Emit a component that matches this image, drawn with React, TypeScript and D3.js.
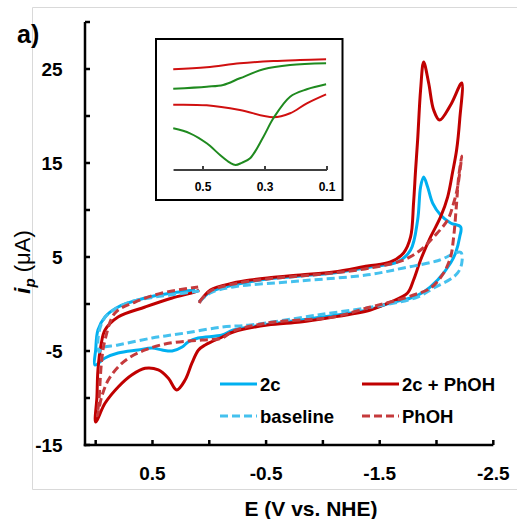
import React from "react";
import * as d3 from "d3";

// ---------- axis ticks ----------
const xTicks = [1.0, 0.5, 0.0, -0.5, -1.0, -1.5, -2.0, -2.5];
const xTickLabels = ["", "0.5", "", "-0.5", "", "-1.5", "", "-2.5"];
const yTicks = [-15, -10, -5, 0, 5, 10, 15, 20, 25, 30];
const yTickLabels = ["-15", "", "-5", "", "5", "", "15", "", "25", ""];
const insetTicks = [0.5, 0.3, 0.1];
const insetTickLabels = ["0.5", "0.3", "0.1"];

const seriesNames = ["2c", "2c + PhOH", "baseline", "PhOH"];

// ---------- 2c (solid blue) ----------
const e2c = [0.089, -0.01, -0.211, -0.511, -0.802, -1.093, -1.419, -1.657, -1.772, -1.834, -1.86, -1.887, -1.922, -1.966, -2.036, -2.124, -2.213,
  -2.204, -2.168, -2.124, -2.01, -1.887, -1.772, -1.595, -1.393, -0.802, -0.211, -0.114, 0.098, 0.186, 0.239, 0.327, 0.415, 0.504, 0.627, 0.803, 0.918, 1.006,
  1.0, 0.98, 0.918, 0.803, 0.565, 0.327, 0.124];
const i2c = [0.21, 1.28, 2.02, 2.66, 2.98, 3.3, 3.94, 4.47, 5.74, 8.94, 12.45, 13.51, 12.45, 10.74, 9.47, 8.62, 8.19,
  7.13, 5.43, 4.36, 2.55, 1.28, 0.64, 0.11, -0.64, -1.7, -2.77, -3.3, -3.62, -4.04, -4.57, -5.0, -4.89, -4.68, -4.89, -5.21, -5.74, -6.49,
  -4.89, -2.77, -1.38, -0.32, 0.64, 1.17, 1.49];

// ---------- 2c + PhOH (solid dark red) ----------
const e2cPhOH = [0.089, -0.01, -0.211, -0.361, -0.511, -0.802, -1.093, -1.393, -1.595, -1.71, -1.772, -1.798, -1.816, -1.834, -1.86, -1.887, -1.931, -1.975, -2.027, -2.124, -2.222,
  -2.204, -2.177, -2.142, -2.098, -2.036, -1.948, -1.86, -1.798, -1.745, -1.595, -1.419, -1.04, -0.802, -0.511, -0.211, -0.114, 0.036, 0.095, 0.153, 0.213, 0.287, 0.36, 0.448, 0.565, 0.683, 0.8, 0.918, 1.0,
  0.989, 0.98, 0.953, 0.918, 0.803, 0.565, 0.327, 0.124, 0.089];
const i2cPhOH = [0.11, 1.49, 2.23, 2.55, 2.77, 3.09, 3.4, 4.04, 4.47, 5.43, 7.13, 10.74, 14.26, 17.45, 22.77, 25.74, 23.51, 20.64, 19.57, 21.17, 23.51,
  19.57, 16.38, 14.04, 11.38, 9.26, 7.13, 4.68, 2.55, 1.17, 0.21, -0.64, -1.49, -1.91, -2.23, -2.98, -3.51, -4.36, -4.89, -6.3, -8.09, -9.15, -7.9, -7.02, -6.84, -7.55, -8.8, -10.56, -12.55,
  -9.89, -7.02, -4.36, -2.77, -1.38, -0.32, 0.64, 1.28, 1.49];

// ---------- baseline (dashed blue) ----------
const eBaseline = [0.089, -0.01, -0.211, -0.802, -1.393, -1.71, -2.01, -2.213,
  -2.222, -2.186, -2.124, -1.975, -1.834, -1.534, -0.952, -0.361, -0.114, 0.213, 0.504, 0.803, 0.944, 0.97,
  0.98, 0.953, 0.909, 0.83, 0.698, 0.477, 0.213, 0.089];
const iBaseline = [0.21, 1.17, 1.81, 2.45, 3.1, 3.83, 4.6, 5.5,
  4.3, 3.3, 2.66, 1.7, 0.74, -0.11, -1.17, -2.23, -2.45, -3.09, -3.62, -4.36, -4.68, -5.11,
  -3.83, -2.23, -1.28, -0.53, 0.21, 0.74, 1.17, 1.38];

// ---------- PhOH (dashed red) ----------
const ePhOH = [0.089, -0.01, -0.211, -0.511, -0.802, -1.093, -1.419, -1.71, -1.86, -1.975, -2.098, -2.151, -2.186, -2.222,
  -2.195, -2.177, -2.151, -2.124, -2.063, -1.948, -1.798, -1.595, -1.419, -1.093, -0.511, -0.211, -0.114, 0.065, 0.36, 0.565, 0.713, 0.8, 0.889, 0.947, 0.984,
  0.971, 0.947, 0.918, 0.83, 0.653, 0.415, 0.098];
const iPhOH = [0.21, 1.38, 2.13, 2.66, 2.98, 3.3, 3.83, 4.68, 5.74, 7.13, 8.94, 10.74, 12.45, 15.74,
  13.51, 10.74, 7.13, 5.0, 3.3, 1.7, 0.96, 0.21, -0.32, -1.38, -2.02, -2.87, -3.62, -3.83, -4.18, -4.89, -5.78, -6.67, -8.09, -9.86, -11.9,
  -10.2, -5.96, -3.83, -0.96, 0.21, 1.17, 1.81];

// ---------- inset curves (arbitrary current units) ----------
const insetRedTopE = [0.596, 0.488, 0.381, 0.273, 0.187, 0.103];
const insetRedTopI = [10.07, 10.27, 10.67, 10.9, 11.0, 11.07];
const insetGreenTopE = [0.596, 0.488, 0.435, 0.381, 0.305, 0.219, 0.103];
const insetGreenTopI = [8.13, 8.33, 8.5, 9.17, 10.07, 10.5, 10.67];
const insetRedMidE = [0.596, 0.488, 0.381, 0.273, 0.219, 0.165, 0.103];
const insetRedMidI = [6.53, 6.47, 6.0, 5.27, 5.67, 6.67, 7.57];
const insetGreenLowE = [0.596, 0.542, 0.488, 0.445, 0.413, 0.395, 0.375, 0.348, 0.305, 0.273, 0.219, 0.165, 0.103];
const insetGreenLowI = [4.17, 3.67, 2.67, 1.5, 0.73, 0.5, 0.72, 1.17, 3.33, 5.17, 7.33, 8.07, 8.57];

const BLUE = "#00b0f0";
const BLUE_D = "#45c1ee";
const RED = "#c00000";
const RED_D = "#c53a3c";
const INSET_RED = "#d01010";
const INSET_GREEN = "#1f8a1f";
const FONT = "'Liberation Sans', Arial, sans-serif";

function zip(es: number[], is: number[]): [number, number][] {
  return es.map((e, k) => [e, is[k]] as [number, number]);
}

export default function App() {
  const x = d3.scaleLinear().domain([1.094, -2.5]).range([85, 493.3]);
  const y = d3.scaleLinear().domain([-15, 30]).range([445, 22]);
  const ix = d3.scaleLinear().domain([0.6, 0.1]).range([172, 327]);
  const iy = d3.scaleLinear().domain([0, 12]).range([170, 50]);

  const mainLine = d3
    .line<[number, number]>()
    .x((d) => x(d[0]))
    .y((d) => y(d[1]))
    .curve(d3.curveCatmullRom.alpha(0.5));
  const insetLine = d3
    .line<[number, number]>()
    .x((d) => ix(d[0]))
    .y((d) => iy(d[1]))
    .curve(d3.curveCatmullRom.alpha(0.5));

  const series = [
    { name: seriesNames[0], d: mainLine(zip(e2c, i2c)), color: BLUE, dash: undefined },
    { name: seriesNames[1], d: mainLine(zip(e2cPhOH, i2cPhOH)), color: RED, dash: undefined },
    { name: seriesNames[2], d: mainLine(zip(eBaseline, iBaseline)), color: BLUE_D, dash: "8 4" },
    { name: seriesNames[3], d: mainLine(zip(ePhOH, iPhOH)), color: RED_D, dash: "8 4" },
  ];

  const insetSeries = [
    { d: insetLine(zip(insetRedTopE, insetRedTopI)), color: INSET_RED },
    { d: insetLine(zip(insetGreenTopE, insetGreenTopI)), color: INSET_GREEN },
    { d: insetLine(zip(insetRedMidE, insetRedMidI)), color: INSET_RED },
    { d: insetLine(zip(insetGreenLowE, insetGreenLowI)), color: INSET_GREEN },
  ];

  const x0 = x.range()[0];
  const y0 = y.range()[0];

  const legend = [
    { s: series[0], lx: 220, ly: 384 },
    { s: series[1], lx: 362, ly: 384 },
    { s: series[2], lx: 220, ly: 416 },
    { s: series[3], lx: 362, ly: 416 },
  ];

  return (
    <svg
      width={517}
      height={519}
      style={{ position: "absolute", left: 0, top: 0, background: "#fff" }}
      fontFamily={FONT}
    >
      <rect x={0} y={0} width={517} height={519} fill="#fff" />
      {/* light frame */}
      <g stroke="#d9d9d9" strokeWidth={1} fill="none">
        <line x1={32.5} y1={7.5} x2={517} y2={7.5} />
        <line x1={32.5} y1={7.5} x2={32.5} y2={489.5} />
        <line x1={32.5} y1={489.5} x2={517} y2={489.5} />
      </g>

      {/* series */}
      {series.map((s, k) => (
        <path
          key={k}
          d={s.d || ""}
          fill="none"
          stroke={s.color}
          strokeWidth={3}
          strokeDasharray={s.dash}
          strokeLinejoin="round"
        />
      ))}

      {/* axes */}
      <g stroke="#000" strokeWidth={2.5} fill="none">
        <line x1={x0} y1={y(30)} x2={x0} y2={y0 + 1.25} />
        <line x1={x0 - 1.25} y1={y0} x2={x(-2.5)} y2={y0} />
        {yTicks.map((t) => (
          <line key={"yt" + t} x1={x0} y1={y(t)} x2={x0 + 5} y2={y(t)} />
        ))}
        {xTicks.map((t) => (
          <line key={"xt" + t} x1={x(t)} y1={y0} x2={x(t)} y2={y0 - 5} />
        ))}
      </g>
      <g fontSize={19} fontWeight="bold" fill="#000">
        {yTicks.map((t, k) =>
          yTickLabels[k] ? (
            <text key={"yl" + t} x={62.7} y={y(t) + 6.8} textAnchor="end">
              {yTickLabels[k]}
            </text>
          ) : null
        )}
        {xTicks.map((t, k) =>
          xTickLabels[k] ? (
            <text key={"xl" + t} x={x(t)} y={480} textAnchor="middle">
              {xTickLabels[k]}
            </text>
          ) : null
        )}
      </g>

      {/* axis titles */}
      <text x={311} y={516} textAnchor="middle" fontSize={21} fontWeight="bold">
        E (V vs. NHE)
      </text>
      <text transform="translate(30,262) rotate(-90)" textAnchor="middle" fontSize={22}>
        <tspan fontStyle="italic" fontWeight="bold">i</tspan>
        <tspan fontStyle="italic" fontWeight="bold" fontSize={15} dy={5}>p</tspan>
        <tspan dy={-5}> (μA)</tspan>
      </text>
      <text x={17} y={42.5} fontSize={25} fontWeight="bold">
        a)
      </text>

      {/* inset */}
      <rect x={156} y={39} width={186.5} height={161} fill="#fff" stroke="#000" strokeWidth={2} />
      {insetSeries.map((s, k) => (
        <path key={"in" + k} d={s.d || ""} fill="none" stroke={s.color} strokeWidth={2} />
      ))}
      <g stroke="#404040" strokeWidth={2}>
        <line x1={ix(0.595)} y1={iy(0)} x2={ix(0.1)} y2={iy(0)} />
        {insetTicks.map((t) => (
          <line key={"it" + t} x1={ix(t)} y1={iy(0)} x2={ix(t)} y2={iy(0) - 4} />
        ))}
      </g>
      <g fontSize={12} fontWeight="bold" fill="#000">
        {insetTicks.map((t, k) => (
          <text key={"il" + t} x={ix(t)} y={191} textAnchor="middle">
            {insetTickLabels[k]}
          </text>
        ))}
      </g>

      {/* legend */}
      {legend.map((l, k) => (
        <g key={"lg" + k}>
          <line
            x1={l.lx}
            y1={l.ly}
            x2={l.lx + 37}
            y2={l.ly}
            stroke={l.s.color}
            strokeWidth={3}
            strokeDasharray={l.s.dash}
          />
          <text x={l.lx + 40} y={l.ly + 6.8} fontSize={18.5} fontWeight="bold">
            {l.s.name}
          </text>
        </g>
      ))}
    </svg>
  );
}
